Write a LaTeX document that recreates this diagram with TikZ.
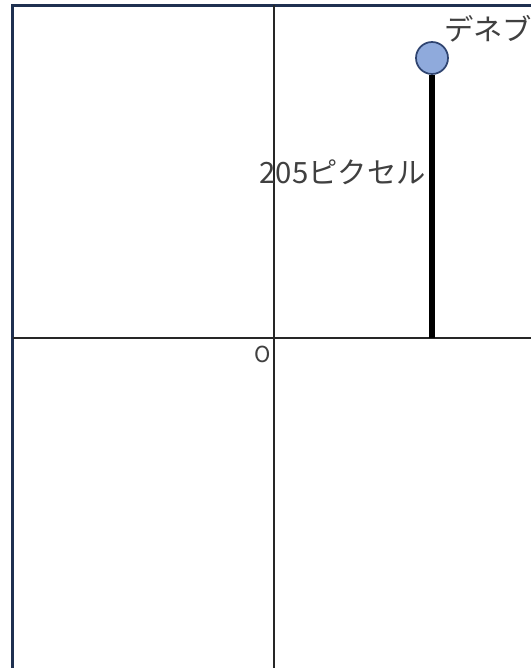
\documentclass[tikz,border=0pt]{standalone}
\usepackage{fontspec}
\newfontfamily\jp{Noto Sans CJK JP}
\definecolor{frame}{HTML}{1F3050}
\definecolor{dotfill}{HTML}{8FAADC}
\definecolor{dotline}{HTML}{2F4470}
\tikzset{
  axis/.style={draw=black!85, line width=1.1pt},
  border/.style={draw=frame, line width=2.2pt},
  label/.style={font=\jp\fontsize{22}{25}\selectfont, text=black!75, inner sep=0pt},
  stem/.style={draw=black, line width=3.8pt},
  star/.style={circle, draw=dotline, fill=dotfill, line width=1.3pt, minimum size=24pt, inner sep=0pt}
}
\begin{document}
\begin{tikzpicture}[x=0.75pt,y=-0.75pt]
\useasboundingbox (0,0) rectangle (531,668);
\fill[white] (0,0) rectangle (531,668);
% frame
\coordinate (tl) at (12.5,5.3);
\coordinate (tr) at (531,5.3);
\coordinate (bl) at (12.5,668);
\draw[border] (tr) -- (tl) -- (bl);
% axes
\coordinate (vtop) at (274,5);
\coordinate (vbot) at (274,668);
\coordinate (hl) at (13,338);
\coordinate (hr) at (531,338);
\draw[axis] (vtop) -- (vbot);
\draw[axis] (hl) -- (hr);
% stem and star
\coordinate (base) at (432,338);
\node[star] (deneb) at (432,58) {};
\draw[stem] (base) -- (deneb.south);
\node[label, anchor=south west] (name) at (444,42) {デネブ};
\node[label, anchor=east] (len) at (426,172) {205ピクセル};
\node[font=\jp\fontsize{16.5}{18}\selectfont, text=black!75, inner sep=0pt] (origin) at (263,354.5) {O};
\end{tikzpicture}
\end{document}
